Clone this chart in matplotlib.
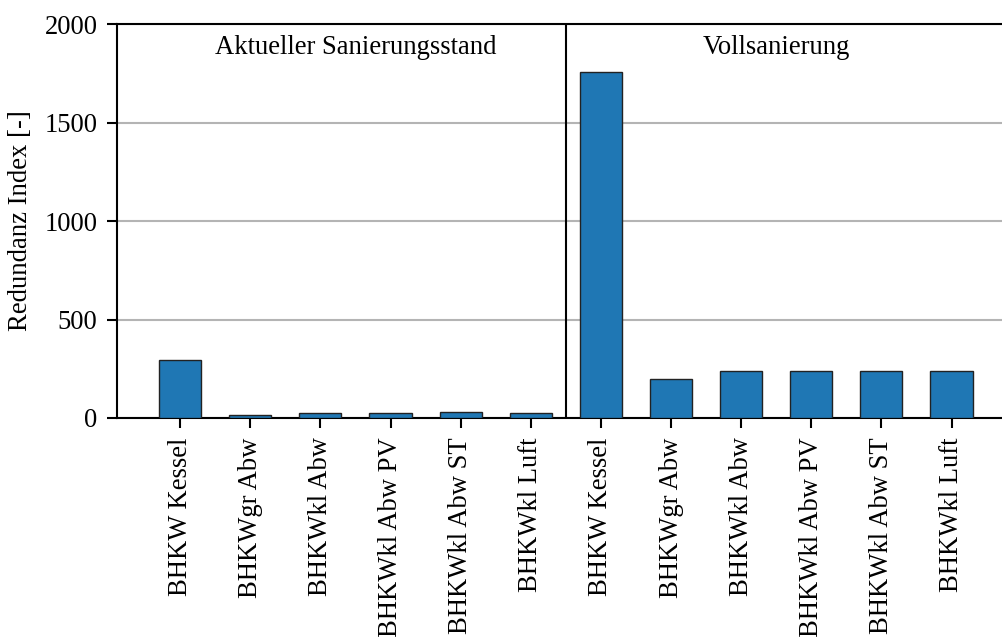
import matplotlib.pyplot as plt
import numpy as np

plt.rcParams['font.family'] = ['Liberation Serif', 'DejaVu Serif']
plt.rcParams['font.size'] = 19.2

labels = ['BHKW Kessel', 'BHKWgr Abw', 'BHKWkl Abw', 'BHKWkl Abw PV', 'BHKWkl Abw ST', 'BHKWkl Luft']
aktuell = [294, 14, 27, 27, 32, 27]
voll = [1756, 198, 238, 238, 238, 238]

values = aktuell + voll
xlabels = labels + labels
x = np.arange(len(values))

fig = plt.figure(figsize=(10.02, 6.37), dpi=100)
ax = fig.add_axes([0.1168, 0.3438, 0.8832, 0.6185])

ax.yaxis.grid(True, color='#b4b4b4', linewidth=1.5)
ax.set_axisbelow(True)
ax.bar(x, values, width=0.6, color='#1f77b4', edgecolor='#222222', linewidth=1.0, zorder=3)
ax.axvline(5.5, color='black', linewidth=1.5, zorder=4)

ax.set_xlim(-0.9, 11.72)
ax.set_ylim(0, 2000)
ax.set_yticks([0, 500, 1000, 1500, 2000])
ax.set_xticks(x)
ax.set_xticklabels(xlabels, rotation=90)
ax.tick_params(direction='out', length=7, width=1.5, pad=7)
ax.set_ylabel('Redundanz Index [-]', labelpad=8)

for s in ['top', 'left', 'bottom']:
    ax.spines[s].set_linewidth(1.5)
ax.spines['right'].set_visible(False)

ax.text(2.5, 1880, 'Aktueller Sanierungsstand', ha='center', va='center')
ax.text(8.5, 1880, 'Vollsanierung', ha='center', va='center')

fig.savefig('out.png', dpi=100)
